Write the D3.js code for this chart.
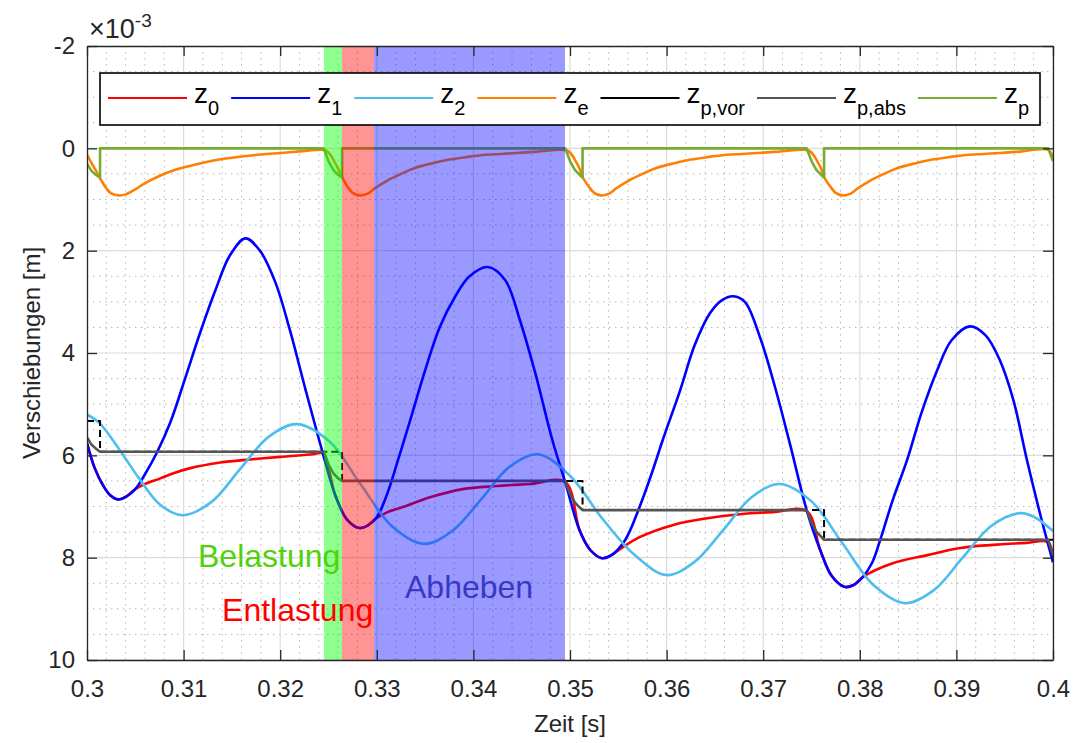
<!DOCTYPE html>
<meta charset="utf-8">
<script src="https://d3js.org/d3.v7.min.js"></script>
<style>
  body { margin: 0; background: #fff; }
  text { font-family: "Liberation Sans", Arial, Helvetica, sans-serif; }
</style>
<div id="vis"></div>
<script>

// ---- data (displacements in 1e-3 m, time in s) ----
var names = ["0", "1", "2", "e", "p,vor", "p,abs", "p"]

var xTicks = [0.3, 0.31, 0.32, 0.33, 0.34, 0.35, 0.36, 0.37, 0.38, 0.39, 0.4]
var yTicks = [-2, 0, 2, 4, 6, 8, 10]

var z0T = [0.3000,0.3008,0.3017,0.3024,0.3032,0.3041,0.3050,0.3060,0.3076,0.3091,0.3107,0.3138,0.3169,0.3200,0.3234,0.3244,0.3257,0.3269,0.3282,0.3290,0.3298,0.3311,0.3327,0.3355,0.3389,0.3424,0.3459,0.3495,0.3510,0.3521,0.3533,0.3543,0.3552,0.3572,0.3607,0.3642,0.3676,0.3710,0.3745,0.3759,0.3771,0.3784,0.3793,0.3803,0.3834,0.3870,0.3904,0.3938,0.3973,0.3995,0.4000]
var z0V = [5.76,6.25,6.60,6.78,6.86,6.80,6.66,6.56,6.45,6.34,6.25,6.14,6.08,6.03,5.98,5.96,6.78,7.25,7.42,7.38,7.25,7.11,7.01,6.82,6.66,6.60,6.56,6.52,7.47,7.85,8.01,7.95,7.83,7.60,7.36,7.23,7.15,7.11,7.09,7.85,8.36,8.57,8.54,8.38,8.11,7.95,7.81,7.75,7.71,7.70,8.09]

var z1T = [0.3000,0.3008,0.3017,0.3024,0.3032,0.3041,0.3050,0.3060,0.3072,0.3086,0.3101,0.3117,0.3133,0.3148,0.3164,0.3179,0.3195,0.3210,0.3226,0.3244,0.3257,0.3269,0.3282,0.3290,0.3300,0.3311,0.3322,0.3334,0.3350,0.3365,0.3381,0.3396,0.3415,0.3433,0.3448,0.3464,0.3482,0.3495,0.3510,0.3521,0.3533,0.3543,0.3557,0.3572,0.3585,0.3596,0.3614,0.3629,0.3645,0.3657,0.3669,0.3681,0.3697,0.3712,0.3728,0.3745,0.3759,0.3771,0.3784,0.3793,0.3803,0.3813,0.3821,0.3834,0.3849,0.3864,0.3880,0.3895,0.3914,0.3930,0.3945,0.3959,0.3973,0.3987,0.4000]
var z1V = [5.76,6.25,6.60,6.78,6.86,6.80,6.66,6.37,5.96,5.37,4.53,3.61,2.77,2.09,1.76,2.00,2.62,3.55,4.70,5.95,6.78,7.25,7.42,7.38,7.21,6.74,6.09,5.35,4.34,3.50,2.90,2.50,2.32,2.58,3.35,4.39,5.72,6.52,7.47,7.85,8.01,7.95,7.66,7.01,6.33,5.70,4.73,3.85,3.22,2.97,2.89,3.00,3.71,4.65,5.80,7.07,7.85,8.36,8.57,8.54,8.38,8.09,7.66,6.88,6.09,5.16,4.34,3.75,3.48,3.65,4.14,4.92,6.09,7.17,8.09]

var z2T = [0.3000,0.3013,0.3034,0.3055,0.3076,0.3099,0.3129,0.3158,0.3188,0.3217,0.3251,0.3283,0.3316,0.3349,0.3378,0.3408,0.3437,0.3467,0.3500,0.3534,0.3567,0.3600,0.3629,0.3659,0.3688,0.3717,0.3750,0.3782,0.3815,0.3847,0.3877,0.3906,0.3936,0.3966,0.3981,0.4000]
var z2V = [5.20,5.37,5.90,6.48,6.97,7.17,6.91,6.28,5.64,5.39,5.73,6.56,7.39,7.73,7.48,6.86,6.23,5.98,6.40,7.25,7.95,8.34,8.08,7.45,6.82,6.56,6.90,7.72,8.55,8.89,8.63,8.01,7.38,7.13,7.21,7.48]

var zeT = [0.3000,0.3005,0.3010,0.3013,0.3020,0.3025,0.3033,0.3040,0.3050,0.3060,0.3075,0.3090,0.3105,0.3120,0.3140,0.3160,0.3180,0.3200,0.3220,0.3245,
           0.3250,0.3255,0.3260,0.3264,0.3270,0.3275,0.3282,0.3290,0.3298,0.3310,0.3325,0.3340,0.3358,0.3375,0.3393,0.3410,0.3428,0.3445,0.3462,0.3495,
           0.3500,0.3505,0.3510,0.3513,0.3520,0.3525,0.3532,0.3540,0.3548,0.3560,0.3575,0.3590,0.3608,0.3625,0.3643,0.3660,0.3678,0.3695,0.3712,0.3745,
           0.3750,0.3755,0.3760,0.3763,0.3770,0.3775,0.3782,0.3790,0.3798,0.3810,0.3825,0.3840,0.3858,0.3875,0.3893,0.3910,0.3928,0.3945,0.3962,0.3995,0.4000]
var zeV = [0.12,0.30,0.46,0.57,0.78,0.88,0.92,0.90,0.80,0.68,0.54,0.43,0.35,0.28,0.21,0.16,0.12,0.09,0.06,0.03,
           0.08,0.22,0.40,0.56,0.76,0.87,0.92,0.89,0.78,0.64,0.50,0.38,0.29,0.22,0.17,0.13,0.11,0.09,0.07,0.03,
           0.08,0.22,0.40,0.56,0.76,0.87,0.92,0.89,0.78,0.64,0.50,0.38,0.29,0.22,0.17,0.13,0.11,0.09,0.07,0.03,
           0.08,0.22,0.40,0.56,0.76,0.87,0.92,0.89,0.78,0.64,0.50,0.38,0.29,0.22,0.17,0.13,0.11,0.09,0.07,0.03,0.18]

var zpvorT = [0.3000,0.30135,0.30135,0.3264,0.3264,0.3513,0.3513,0.3763,0.3763,0.4000]
var zpvorV = [5.33,5.33,5.93,5.93,6.50,6.50,7.07,7.07,7.65,7.65]

var zpabsT = [0.3000,0.3005,0.3010,0.30135,0.3245,0.3250,0.3255,0.3260,0.3264,0.3495,0.3500,0.3505,0.3510,0.3513,0.3745,0.3750,0.3755,0.3760,0.3763,0.3995,0.4000]
var zpabsV = [5.65,5.80,5.88,5.93,5.93,6.18,6.35,6.45,6.50,6.50,6.75,6.92,7.02,7.07,7.07,7.32,7.49,7.59,7.65,7.65,7.95]

var zpT = [0.3000,0.3005,0.3010,0.30135,0.30135,0.3245,0.3250,0.3255,0.3260,0.3264,0.3264,0.3495,0.3500,0.3505,0.3510,0.3513,0.3513,0.3745,0.3750,0.3755,0.3760,0.3763,0.3763,0.3995,0.4000]
var zpV = [0.30,0.45,0.53,0.57,0,0,0.25,0.42,0.52,0.57,0,0,0.25,0.42,0.52,0.57,0,0,0.25,0.42,0.52,0.57,0,0,0.25]

var phaseNames = ["Belastung", "Entlastung", "Abheben"]
var phaseStart = [0.32453, 0.3264, 0.32971]
var phaseEnd = [0.3264, 0.32971, 0.34948]

// ---- styles / layout ----
var colors = ["#ff0000", "#0000ff", "#4dbeee", "#ff8000", "#000000", "#555555", "#77ac30"]
var phaseFill = ["#00ff00", "#ff0000", "#0000ff"]
var phaseOpacity = [0.44, 0.42, 0.4]
var phaseTextColor = ["#50d20a", "#ff0000", "#3838c4"]
var phaseTextPos = [[0.31149, 8.18], [0.31398, 9.24], [0.33292, 8.79]]

var W = 1076, H = 743
var mLeft = 87, mRight = 1053, mTop = 46, mBottom = 660

var x = d3.scaleLinear().domain([0.3, 0.4]).range([mLeft, mRight])
var y = d3.scaleLinear().domain([-2, 10]).range([mTop, mBottom])

var svg = d3.select("#vis").append("svg")
    .attr("width", W)
    .attr("height", H)

svg.append("rect").attr("width", W).attr("height", H).attr("fill", "white")

svg.append("clipPath").attr("id", "clip")
  .append("rect")
    .attr("x", mLeft).attr("y", mTop)
    .attr("width", mRight - mLeft).attr("height", mBottom - mTop)

var plot = svg.append("g").attr("clip-path", "url(#clip)")

// minor grid (dotted)
var xMinor = d3.range(1, 50).filter(function(i){ return i % 5 }).map(function(i){ return 0.3 + i * 0.002 })
var yMinor = d3.range(1, 24).filter(function(i){ return i % 4 }).map(function(i){ return -2 + i * 0.5 })

plot.selectAll(".vminor").data(xMinor).enter().append("line")
    .attr("x1", function(d){ return x(d) }).attr("x2", function(d){ return x(d) })
    .attr("y1", mTop).attr("y2", mBottom)
    .attr("stroke", "#b5b5b5").attr("stroke-width", 1).attr("stroke-dasharray", "1.5,4.5")
plot.selectAll(".hminor").data(yMinor).enter().append("line")
    .attr("y1", function(d){ return y(d) }).attr("y2", function(d){ return y(d) })
    .attr("x1", mLeft).attr("x2", mRight)
    .attr("stroke", "#b5b5b5").attr("stroke-width", 1).attr("stroke-dasharray", "1.5,4.5")

// major grid
plot.selectAll(".vmajor").data(xTicks).enter().append("line")
    .attr("x1", function(d){ return x(d) }).attr("x2", function(d){ return x(d) })
    .attr("y1", mTop).attr("y2", mBottom)
    .attr("stroke", "#dcdcdc").attr("stroke-width", 1.2)
plot.selectAll(".hmajor").data(yTicks).enter().append("line")
    .attr("y1", function(d){ return y(d) }).attr("y2", function(d){ return y(d) })
    .attr("x1", mLeft).attr("x2", mRight)
    .attr("stroke", "#dcdcdc").attr("stroke-width", 1.2)

// series
var smooth = d3.curveCatmullRom.alpha(0.5)
var series = [
  { t: z0T, v: z0V, curve: smooth },
  { t: z1T, v: z1V, curve: smooth },
  { t: z2T, v: z2V, curve: smooth },
  { t: zeT, v: zeV, curve: smooth },
  { t: zpvorT, v: zpvorV, curve: d3.curveLinear, dash: "7,4" },
  { t: zpabsT, v: zpabsV, curve: d3.curveLinear },
  { t: zpT, v: zpV, curve: d3.curveLinear }
]

series.forEach(function(s, i) {
  var line = d3.line()
    .x(function(d){ return x(d[0]) })
    .y(function(d){ return y(d[1]) })
    .curve(s.curve)
  plot.append("path")
    .datum(d3.zip(s.t, s.v))
    .attr("d", line)
    .attr("fill", "none")
    .attr("stroke", colors[i])
    .attr("stroke-width", i == 4 ? 2 : 2.6)
    .attr("stroke-linejoin", "round")
    .attr("stroke-dasharray", s.dash || null)
})

// phase patches
plot.selectAll(".phase").data(phaseNames).enter().append("rect")
    .attr("x", function(d, i){ return x(phaseStart[i]) })
    .attr("width", function(d, i){ return x(phaseEnd[i]) - x(phaseStart[i]) })
    .attr("y", mTop).attr("height", mBottom - mTop)
    .attr("fill", function(d, i){ return phaseFill[i] })
    .attr("opacity", function(d, i){ return phaseOpacity[i] })

// phase labels
svg.selectAll(".plabel").data(phaseNames).enter().append("text")
    .attr("x", function(d, i){ return x(phaseTextPos[i][0]) })
    .attr("y", function(d, i){ return y(phaseTextPos[i][1]) })
    .attr("font-size", 32)
    .attr("fill", function(d, i){ return phaseTextColor[i] })
    .text(function(d){ return d })

// legend
var leg = svg.append("g")
leg.append("rect")
    .attr("x", 100).attr("y", 73).attr("width", 940).attr("height", 52)
    .attr("fill", "white").attr("stroke", "black").attr("stroke-width", 1.6)
var cx = 108
names.forEach(function(n, i) {
  leg.append("line")
    .attr("x1", cx).attr("x2", cx + 79).attr("y1", 98).attr("y2", 98)
    .attr("stroke", colors[i]).attr("stroke-width", 2.2)
  var t = leg.append("text").attr("x", cx + 86).attr("y", 103).attr("font-size", 28).attr("fill", "black")
  t.append("tspan").text("z")
  t.append("tspan").attr("dy", 12).attr("font-size", 20).text(n)
  cx = cx + 86 + t.node().getComputedTextLength() + 12
})

// axes
var fmtX = function(d){ return String(+d.toFixed(2)) }
function style(g) {
  g.attr("color", "#262626").attr("font-size", 24)
   .attr("font-family", "'Liberation Sans', Arial, sans-serif")
  g.selectAll("path, line").attr("stroke-width", 1.3)
}
svg.append("g").attr("transform", "translate(0," + mBottom + ")")
  .call(d3.axisBottom(x).tickValues(xTicks).tickSize(-10).tickSizeOuter(0).tickPadding(20).tickFormat(fmtX))
  .call(style)
svg.append("g").attr("transform", "translate(0," + mTop + ")")
  .call(d3.axisTop(x).tickValues(xTicks).tickSize(-10).tickSizeOuter(0).tickFormat(""))
  .call(style)
svg.append("g").attr("transform", "translate(" + mLeft + ",0)")
  .call(d3.axisLeft(y).tickValues(yTicks).tickSize(-10).tickSizeOuter(0).tickPadding(12).tickFormat(function(d){ return String(d) }))
  .call(style)
svg.append("g").attr("transform", "translate(" + mRight + ",0)")
  .call(d3.axisRight(y).tickValues(yTicks).tickSize(-10).tickSizeOuter(0).tickFormat(""))
  .call(style)

// exponent label
var ex = svg.append("text").attr("x", 89).attr("y", 38).attr("font-size", 27).attr("fill", "#262626")
ex.append("tspan").text("\u00d710")
ex.append("tspan").attr("dy", -11).attr("font-size", 19).text("-3")

// axis titles
svg.append("text")
    .attr("x", (mLeft + mRight) / 2).attr("y", 732)
    .attr("text-anchor", "middle").attr("font-size", 24).attr("fill", "#262626")
    .text("Zeit [s]")
svg.append("text")
    .attr("transform", "translate(40," + (mTop + mBottom) / 2 + ") rotate(-90)")
    .attr("text-anchor", "middle").attr("font-size", 24).attr("fill", "#262626")
    .text("Verschiebungen [m]")

</script>
